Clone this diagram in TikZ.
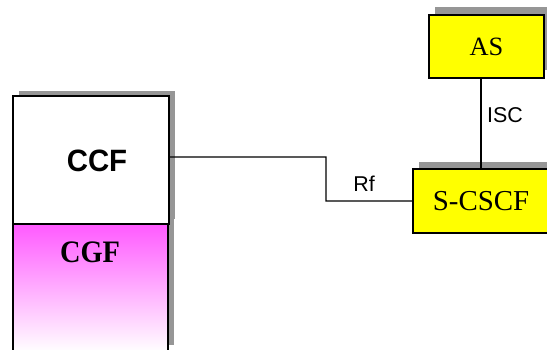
\documentclass[tikz,border=0pt]{standalone}
\usepackage{fontspec}
\setmainfont{Liberation Serif}
\setsansfont{Liberation Sans}
\usetikzlibrary{shadows}
\definecolor{shadowgray}{RGB}{150,150,150}
\definecolor{boxyellow}{RGB}{255,255,0}
\definecolor{cgfmagenta}{RGB}{255,90,255}
\tikzset{
  box/.style={draw=black, line width=1.4bp, inner sep=0pt, outer sep=0pt},
  shad/.style={general shadow={shadow xshift=6bp, shadow yshift=#1, fill=shadowgray}},
  link/.style={draw=black, line width=1.1bp},
  lbl/.style={font=\sffamily\fontsize{21.5}{24}\selectfont, inner sep=0pt}
}
\begin{document}
\begin{tikzpicture}[x=1bp, y=-1bp]
\useasboundingbox (0,0) rectangle (547,349);
% CGF (lower part)
\node (cgf) [box, shad=7bp, minimum width=155bp, minimum height=128bp,
  top color=cgfmagenta, bottom color=white] at (90.5,288) {};
\node (cgftext) [font=\bfseries\fontsize{28.5}{32}\selectfont, inner sep=0pt, yscale=1.1] at (90,252) {CGF};
% CCF
\node (ccf) [box, shad=5bp, fill=white, minimum width=156bp, minimum height=128bp] at (91,160) {};
\node (ccftext) [font=\sffamily\bfseries\fontsize{29.5}{32}\selectfont, inner sep=0pt, yscale=1.05] at (97,161) {CCF};
% AS
\node (as) [box, shad=8bp, fill=boxyellow, minimum width=115bp, minimum height=63bp,
  font=\fontsize{26.5}{30}\selectfont] at (486.5,46.5) {AS};
% S-CSCF
\node (scscf) [box, shad=7bp, fill=boxyellow, minimum width=136bp, minimum height=64bp,
  font=\fontsize{29}{32}\selectfont] at (481,201) {S-CSCF};
% connectors
\coordinate (bend) at (326,157);
\draw[link] ([yshift=3bp]ccf.east) -- (bend) |- (scscf.west);
\draw[link] (scscf.north) -- (scscf.north |- as.south);
\node (isc) [lbl] at (505,115) {ISC};
\node (rf) [lbl] at (364,184) {Rf};
\end{tikzpicture}
\end{document}
